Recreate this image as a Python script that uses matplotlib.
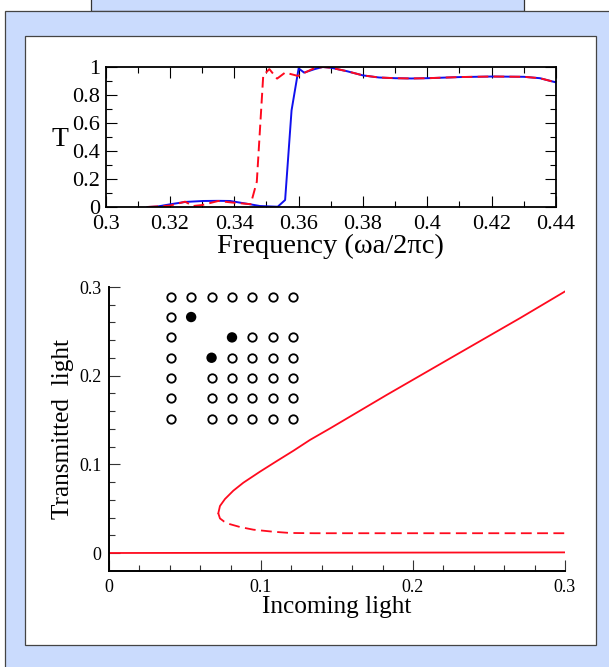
import matplotlib
matplotlib.use("Agg")
import matplotlib.pyplot as plt
from matplotlib.patches import Rectangle

plt.rcParams['font.family'] = ['Liberation Serif', 'DejaVu Serif']

W, H = 609, 667

# ===== DATA =====
freq_blue = [0.313, 0.316, 0.32, 0.3247, 0.3303, 0.335, 0.3387, 0.345, 0.348, 0.3535, 0.3558, 0.3578, 0.36,
             0.3617, 0.365, 0.3675, 0.37, 0.375, 0.38, 0.385, 0.39, 0.395, 0.40, 0.41, 0.42,
             0.43, 0.435, 0.44]
t_blue = [0, 0.003, 0.019, 0.036, 0.043, 0.044, 0.043, 0.019, 0.007, 0.002, 0.05, 0.69, 0.99,
          0.96, 0.985, 1.0, 0.995, 0.97, 0.94, 0.925, 0.92, 0.918, 0.92, 0.928, 0.932,
          0.93, 0.92, 0.89]

freq_red = [0.313, 0.32, 0.3247, 0.3272, 0.33, 0.335, 0.3397, 0.3451, 0.347, 0.349, 0.3509, 0.3533, 0.3558,
            0.3598, 0.3645, 0.3675, 0.37, 0.375, 0.38, 0.385, 0.39, 0.395, 0.40, 0.41, 0.42,
            0.43, 0.435, 0.44]
t_red = [0, 0.01, 0.038, 0.007, 0.014, 0.043, 0.031, 0.02, 0.18, 0.94, 0.985, 0.917, 0.96,
         0.936, 0.988, 1.0, 0.995, 0.97, 0.94, 0.925, 0.92, 0.918, 0.92, 0.928, 0.932,
         0.93, 0.92, 0.89]

in_upper = [0.0719, 0.073, 0.0763, 0.0818, 0.0884, 0.0993, 0.1103, 0.1213, 0.1322, 0.1454, 0.1827, 0.2265, 0.2704, 0.3]
out_upper = [0.0448, 0.053, 0.0609, 0.0703, 0.0793, 0.0917, 0.1036, 0.1153, 0.1275, 0.1405, 0.1783, 0.2216, 0.2649, 0.295]

in_middle = [0.0719, 0.073, 0.0757, 0.0796, 0.0862, 0.095, 0.108, 0.119, 0.135, 0.2, 0.3]
out_middle = [0.0448, 0.039, 0.0355, 0.0325, 0.0293, 0.0263, 0.024, 0.0226, 0.0223, 0.0223, 0.0223]

in_lower = [0, 0.3]
out_lower = [0, 0.0007]

# lattice of rods, row 0 at the top
open_cols = [0, 1, 2, 3, 4, 5, 6, 0, 0, 4, 5, 6, 0, 3, 4, 5, 6, 0, 2, 3, 4, 5, 6, 0, 2, 3, 4, 5, 6, 0, 2, 3, 4, 5, 6]
open_rows = [0, 0, 0, 0, 0, 0, 0, 1, 2, 2, 2, 2, 3, 3, 3, 3, 3, 4, 4, 4, 4, 4, 4, 5, 5, 5, 5, 5, 5, 6, 6, 6, 6, 6, 6]
filled_cols = [1, 3, 2]
filled_rows = [1, 2, 3]

top_xticks = [0.3, 0.32, 0.34, 0.36, 0.38, 0.4, 0.42, 0.44]
top_xlabels = ['0.3', '0.32', '0.34', '0.36', '0.38', '0.4', '0.42', '0.44']
top_yticks = [0, 0.2, 0.4, 0.6, 0.8, 1]
top_ylabels = ['0', '0.2', '0.4', '0.6', '0.8', '1']
bot_xticks = [0, 0.1, 0.2, 0.3]
bot_xlabels = ['0', '0.1', '0.2', '0.3']
bot_yticks = [0, 0.1, 0.2, 0.3]
bot_ylabels = ['0', '0.1', '0.2', '0.3']


def box(fig, left, top, right, bottom, face, edge):
    fig.add_artist(Rectangle((left / W, 1 - bottom / H), (right - left) / W, (bottom - top) / H,
                             transform=fig.transFigure, facecolor=face, edgecolor=edge, linewidth=0.9,
                             zorder=-1))


def axes_px(fig, left, top, right, bottom):
    return fig.add_axes([left / W, 1 - bottom / H, (right - left) / W, (bottom - top) / H])


fig = plt.figure(figsize=(W / 100, H / 100), dpi=100, facecolor='white')

# page background panels
blue = '#CADBFD'
box(fig, 90.5, -5, 524, 11, blue, '#333333')
box(fig, 4.7, 11, 620, 680, blue, '#444444')
box(fig, 25, 35.7, 596, 645, 'white', '#444444')

# ===== TOP PLOT =====
ax = axes_px(fig, 105.6, 67, 556, 207)
ax.plot(freq_blue, t_blue, color='#1010EE', lw=1.4)
ax.plot(freq_red, t_red, color='#FF0A1E', lw=1.4, dashes=(5.5, 2.7))
ax.set_xlim(0.3, 0.44)
ax.set_ylim(0, 1)
ax.set_xticks(top_xticks)
ax.set_xticklabels(top_xlabels)
ax.set_yticks(top_yticks)
ax.set_yticklabels(top_ylabels)
ax.set_xticks([0.31, 0.33, 0.35, 0.37, 0.39, 0.41, 0.43], minor=True)
ax.set_yticks([0.1, 0.3, 0.5, 0.7, 0.9], minor=True)
ax.tick_params(which='major', direction='in', top=True, right=True, length=8, width=0.8, labelsize=16)
ax.tick_params(axis='x', which='major', pad=5.5)
ax.tick_params(axis='y', which='major', pad=4)
ax.tick_params(which='minor', direction='in', top=True, right=True, length=4, width=0.8)
for s in ax.spines.values():
    s.set_linewidth(1.3)
ax.set_xlabel('Frequency (ωa/2πc)', fontsize=20.5, labelpad=0)
ax.set_ylabel('T', fontsize=20, rotation=0, ha='center', va='center')
ax.yaxis.set_label_coords((59.5 - 105.6) / 450.4, 0.485)

# ===== BOTTOM PLOT =====
ax2 = axes_px(fig, 109, 287, 565, 571)
ax2.plot(in_lower, out_lower, color='#FF0A1E', lw=1.3)
ax2.plot(in_upper, out_upper, color='#FF0A1E', lw=1.3)
ax2.plot(in_middle, out_middle, color='#FF0A1E', lw=1.3, dashes=(6, 3))
ax2.set_xlim(0, 0.3)
ax2.set_ylim(-0.0203, 0.3)
ax2.set_xticks(bot_xticks)
ax2.set_xticklabels(bot_xlabels)
ax2.set_yticks(bot_yticks)
ax2.set_yticklabels(bot_ylabels)
ax2.set_xticks([0.02, 0.04, 0.06, 0.08, 0.12, 0.14, 0.16, 0.18, 0.22, 0.24, 0.26, 0.28], minor=True)
ax2.set_yticks([0.02, 0.04, 0.06, 0.08, 0.12, 0.14, 0.16, 0.18, 0.22, 0.24, 0.26, 0.28], minor=True)
ax2.tick_params(which='major', direction='in', length=8, width=0.8, labelsize=13, pad=5.5, color='#333333')
ax2.tick_params(which='minor', direction='in', length=4, width=0.8, color='#333333')
ax2.spines['top'].set_visible(False)
ax2.spines['right'].set_visible(False)
ax2.spines['left'].set_linewidth(1.4)
ax2.spines['bottom'].set_linewidth(1.4)
ax2.set_xlabel('Incoming light', fontsize=18.2, labelpad=0)
ax2.set_ylabel('Transmitted  light', fontsize=18.2, va='center')
ax2.yaxis.set_label_coords((63 - 109) / 456, 0.5)

# ===== LATTICE INSET =====
ins = axes_px(fig, 160.5, 286.5, 303.5, 429)
ins.patch.set_alpha(0)
ins.axis('off')
ins.scatter(open_cols, open_rows, s=37, facecolor='white', edgecolor='black', linewidth=1.3)
ins.scatter(filled_cols, filled_rows, s=56, facecolor='black', edgecolor='none')
ins.set_xlim(-0.5, 6.5)
ins.set_ylim(6.5, -0.5)

fig.savefig('out.png', dpi=100)
